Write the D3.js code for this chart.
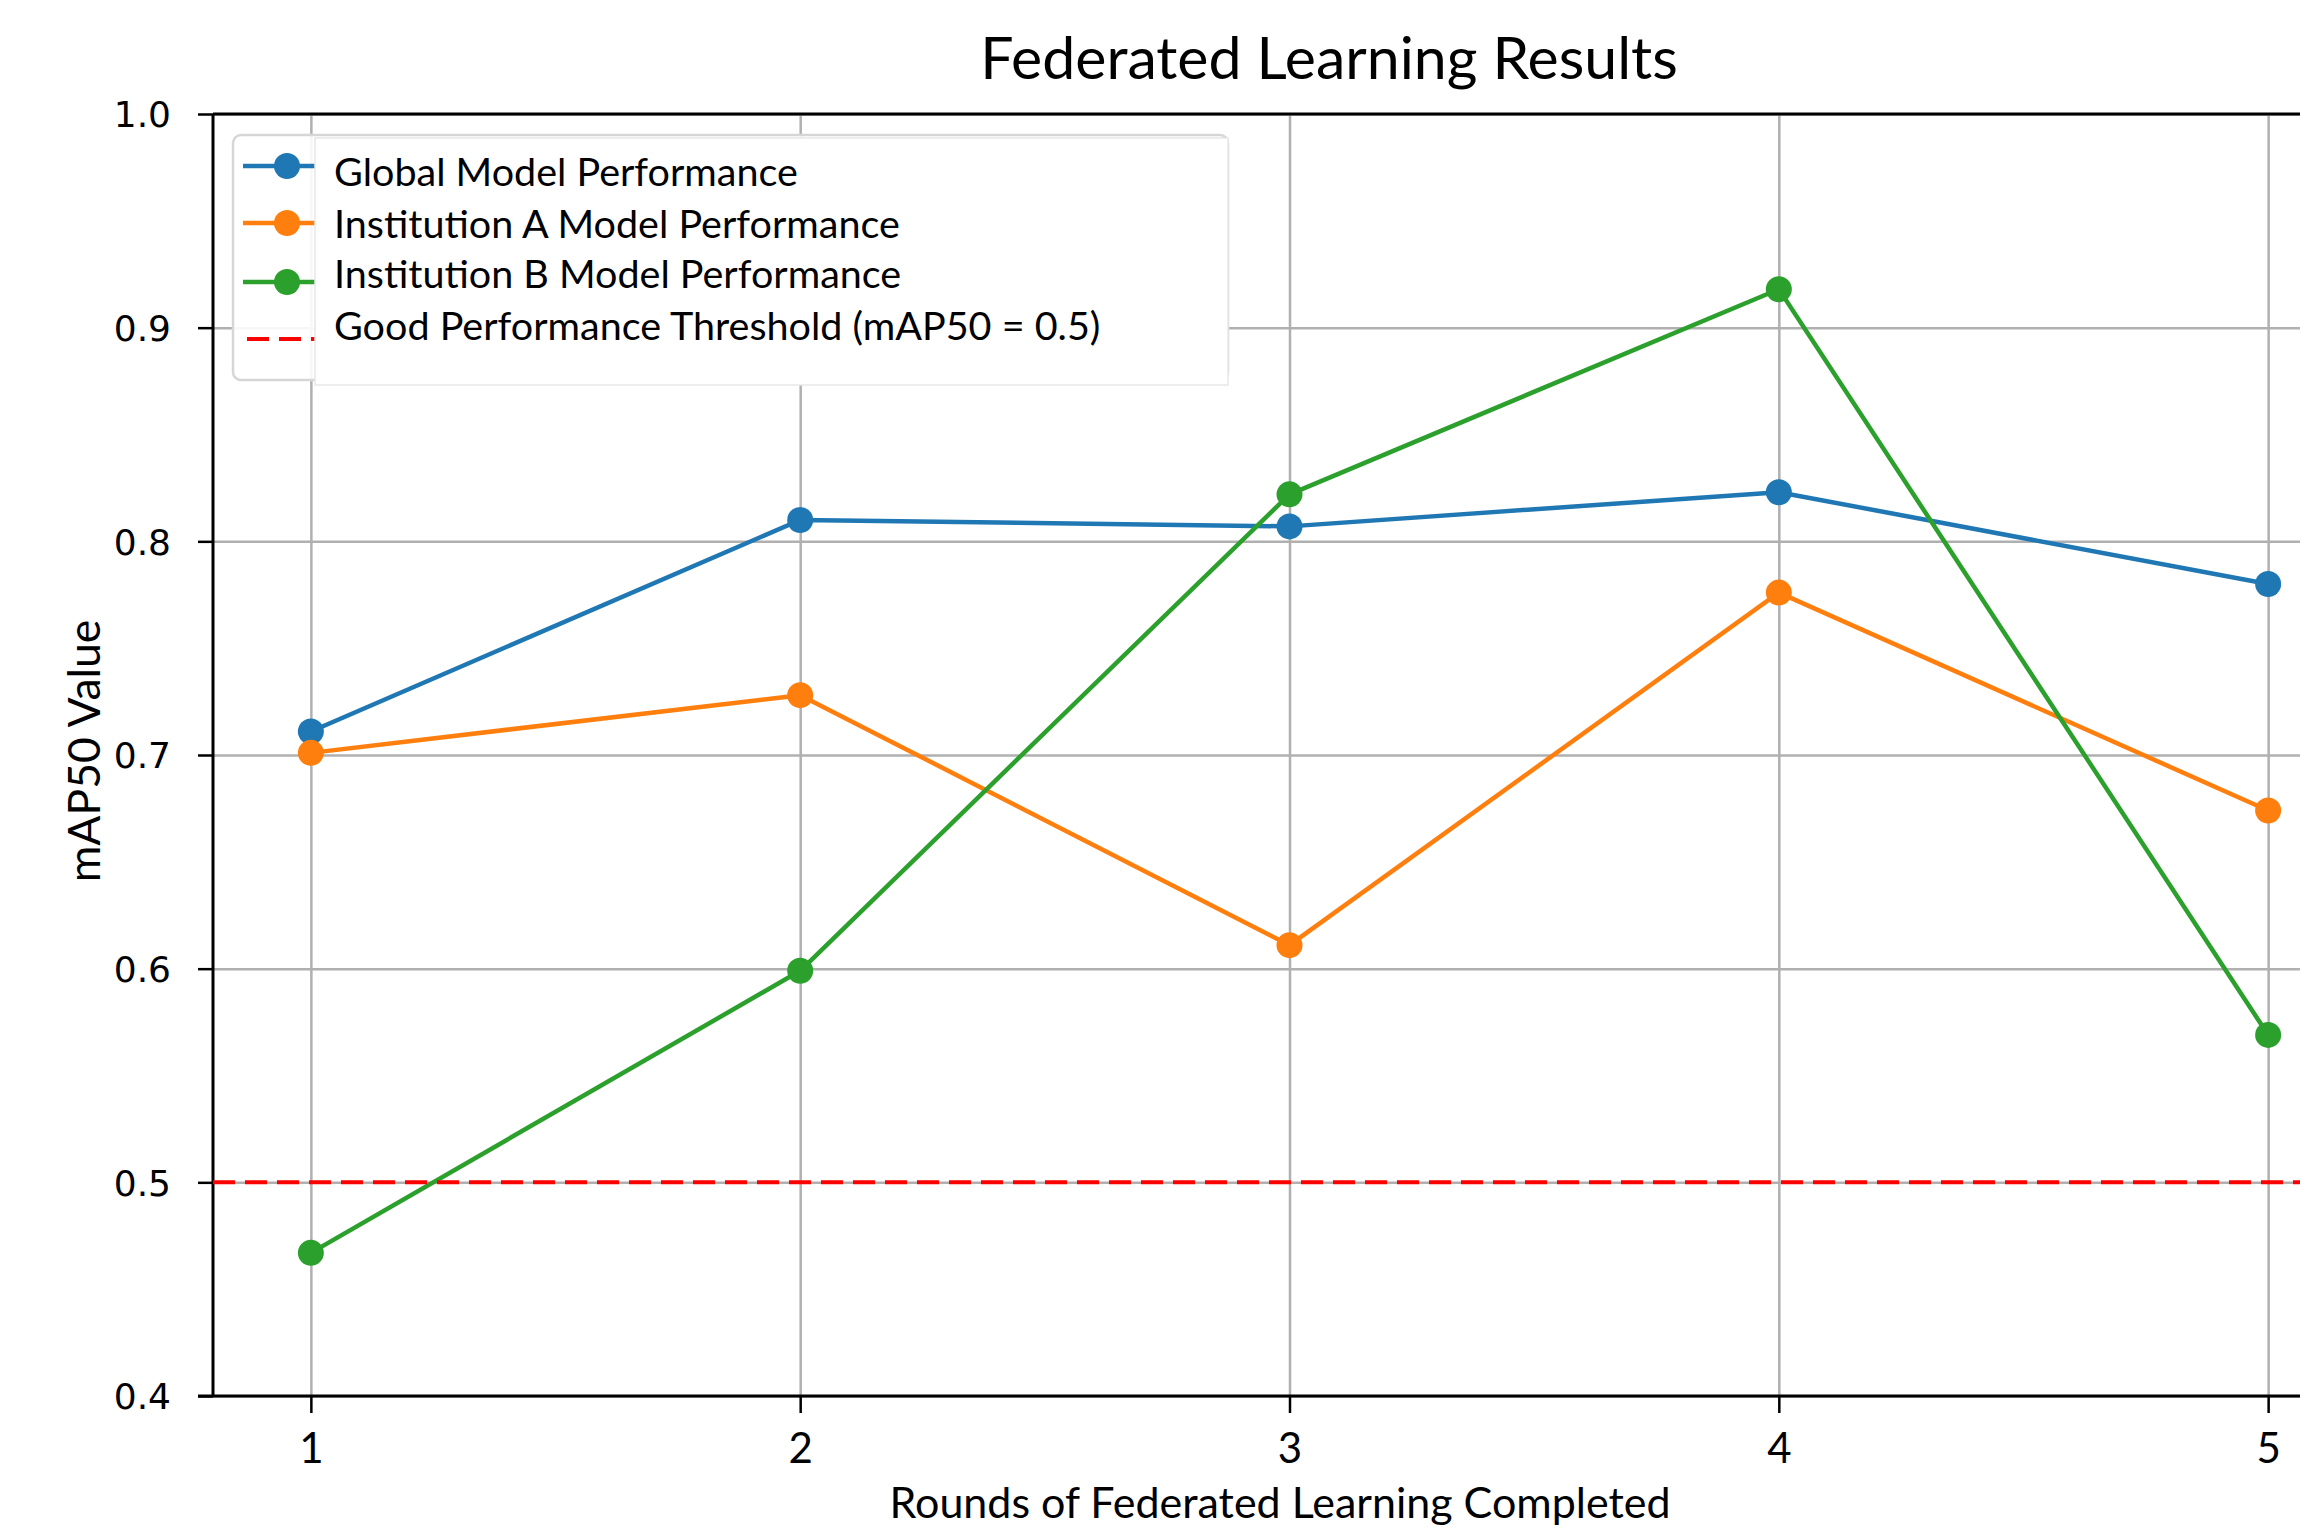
<!DOCTYPE html>
<meta charset="utf-8">
<style>
body { margin: 0; background: #fff; }
svg { display: block; }
.grid line { stroke: #b0b0b0; stroke-width: 2.5; }
.grid path { display: none; }
.axis path { display: none; }
.axis line { stroke: #000; stroke-width: 2.5; }
.y.axis text { font-family: "DejaVu Sans"; font-size: 36px; fill: #000; }
.x.axis text { font-family: Lato; font-size: 42px; fill: #000; }
.spine { stroke: #000; stroke-width: 3; }
.label { font-family: Lato; fill: #000; }
</style>
<svg width="2300" height="1527"></svg>
<script src="https://cdn.jsdelivr.net/npm/d3@7/dist/d3.min.js"></script>
<script>

// rounds on the x axis
var rounds = [1, 2, 3, 4, 5];
var yTicks = [0.4, 0.5, 0.6, 0.7, 0.8, 0.9, 1.0];

// mAP50 per round
var globalModel = [0.711, 0.810, 0.807, 0.823, 0.780];
var institutionA = [0.701, 0.728, 0.611, 0.776, 0.674];
var institutionB = [0.467, 0.599, 0.822, 0.918, 0.569];
var threshold = 0.5;

var seriesNames = ["Global Model Performance", "Institution A Model Performance", "Institution B Model Performance"];
var thresholdName = "Good Performance Threshold (mAP50 = 0.5)";
var colors = ["#1f77b4", "#ff7f0e", "#2ca02c"];

var svg = d3.select("svg");

// plot box; the right side runs past the window like in the original
var plotLeft = 213, plotRight = 2366, plotTop = 114, plotBottom = 1396;

var x = d3.scaleLinear()
    .domain([0.8, 5.2])
    .range([plotLeft, plotRight]);

var y = d3.scaleLinear()
    .domain([0.4, 1.0])
    .range([plotBottom, plotTop]);

// grid
svg.append("g")
    .attr("class", "grid")
    .attr("transform", "translate(0," + plotBottom + ")")
    .call(d3.axisBottom(x).tickValues(rounds).tickSize(-(plotBottom - plotTop)).tickFormat(""));

svg.append("g")
    .attr("class", "grid")
    .attr("transform", "translate(" + plotLeft + ",0)")
    .call(d3.axisLeft(y).tickValues(yTicks).tickSize(-(plotRight - plotLeft)).tickFormat(""));

// axes
var yAxis = svg.append("g")
    .attr("class", "y axis")
    .attr("transform", "translate(" + plotLeft + ",0)")
    .call(d3.axisLeft(y).tickValues(yTicks).tickSize(15).tickPadding(27).tickFormat(d3.format(".1f")));

yAxis.selectAll("text").attr("dy", "0.36em");

var xAxis = svg.append("g")
    .attr("class", "x axis")
    .attr("transform", "translate(0," + plotBottom + ")")
    .call(d3.axisBottom(x).tickValues(rounds).tickSize(17).tickFormat(d3.format("d")));

xAxis.selectAll("text").attr("y", 67).attr("dy", 0);

// spines
svg.append("line").attr("class", "spine")
    .attr("x1", plotLeft).attr("x2", plotLeft).attr("y1", plotTop).attr("y2", plotBottom);
svg.append("line").attr("class", "spine")
    .attr("x1", plotLeft - 15).attr("x2", plotRight).attr("y1", plotBottom).attr("y2", plotBottom);
svg.append("line").attr("class", "spine")
    .attr("x1", plotLeft).attr("x2", plotRight).attr("y1", plotTop).attr("y2", plotTop);

// series
var series = [globalModel, institutionA, institutionB];

var line = d3.line()
    .x(function(d, i) { return x(rounds[i]); })
    .y(function(d) { return y(d); });

series.forEach(function(values, k) {
  var g = svg.append("g");
  g.append("path")
      .datum(values)
      .attr("fill", "none")
      .attr("stroke", colors[k])
      .attr("stroke-width", 4.5)
      .attr("stroke-linejoin", "round")
      .attr("d", line);
  g.selectAll("circle")
      .data(values)
    .enter().append("circle")
      .attr("cx", function(d, i) { return x(rounds[i]); })
      .attr("cy", function(d) { return y(d); })
      .attr("r", 13)
      .attr("fill", colors[k]);
});

// threshold
svg.append("line")
    .attr("x1", plotLeft).attr("x2", plotRight)
    .attr("y1", y(threshold)).attr("y2", y(threshold))
    .attr("stroke", "#ff0000")
    .attr("stroke-width", 4)
    .attr("stroke-dasharray", "22,10");

// legend
var legend = svg.append("g");

legend.append("rect")
    .attr("x", 233).attr("y", 135)
    .attr("width", 995).attr("height", 245)
    .attr("rx", 8)
    .attr("fill", "#fff")
    .attr("fill-opacity", 0.9)
    .attr("stroke", "#d6d6d6")
    .attr("stroke-width", 2.5);

var handleY = [166, 223, 282];
series.forEach(function(values, k) {
  legend.append("line")
      .attr("x1", 243).attr("x2", 331)
      .attr("y1", handleY[k]).attr("y2", handleY[k])
      .attr("stroke", colors[k])
      .attr("stroke-width", 4.5);
  legend.append("circle")
      .attr("cx", 287).attr("cy", handleY[k])
      .attr("r", 13)
      .attr("fill", colors[k]);
});

legend.append("line")
    .attr("x1", 247).attr("x2", 331)
    .attr("y1", 339).attr("y2", 339)
    .attr("stroke", "#ff0000")
    .attr("stroke-width", 4)
    .attr("stroke-dasharray", "22,10");

// the text panel sits over the handles
legend.append("rect")
    .attr("x", 315).attr("y", 138)
    .attr("width", 913).attr("height", 247)
    .attr("fill", "#fff")
    .attr("stroke", "#e8e8e8")
    .attr("stroke-width", 1.5);

var legendText = seriesNames.concat([thresholdName]);
var textY = [186, 238, 288, 340];

legend.selectAll("text")
    .data(legendText)
  .enter().append("text")
    .attr("class", "label")
    .attr("x", 334)
    .attr("y", function(d, i) { return textY[i]; })
    .style("font-size", "39.5px")
    .text(function(d) { return d; });

// titles
svg.append("text")
    .attr("class", "label")
    .attr("x", 1329).attr("y", 79)
    .attr("text-anchor", "middle")
    .style("font-size", "59px")
    .text("Federated Learning Results");

svg.append("text")
    .attr("class", "label")
    .attr("x", 1280).attr("y", 1518)
    .attr("text-anchor", "middle")
    .style("font-size", "43px")
    .text("Rounds of Federated Learning Completed");

svg.append("text")
    .attr("class", "label")
    .attr("transform", "translate(100,751) rotate(-90)")
    .attr("text-anchor", "middle")
    .style("font-size", "44.5px")
    .text("mAP50 Value");

</script>
